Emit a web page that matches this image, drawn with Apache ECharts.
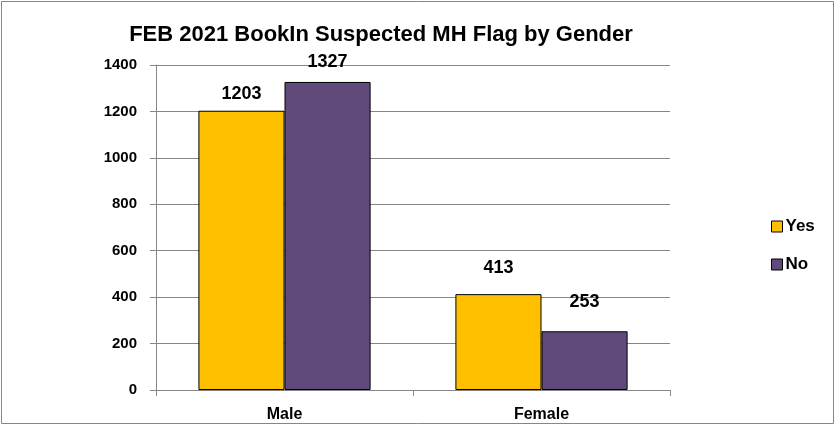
<!DOCTYPE html>
<html>
<head>
<meta charset="utf-8">
<script src="https://cdn.jsdelivr.net/npm/echarts@6/dist/echarts.min.js"></script>
<style>html,body{margin:0;padding:0;background:#fff}#c{width:837px;height:426px}</style>
</head>
<body>
<div id="c"></div>
<script>
const titleText = 'FEB 2021 BookIn Suspected MH Flag by Gender';
const categories = ['Male', 'Female'];
const yesValues = [1203, 413];
const noValues = [1327, 253];
const seriesNames = ['Yes', 'No'];
const yTicks = { min: 0, max: 1400, interval: 200 };

const FONT = '"Liberation Sans", Arial, sans-serif';
const yesDist = [8, 17];
const noDist = [11, 20];

const chart = echarts.init(document.getElementById('c'), null, { renderer: 'canvas' });
function mk(vals, dists) {
  return vals.map((v, i) => ({ value: v, label: { distance: dists[i] } }));
}
const labelStyle = { show: true, position: 'top', color: '#000', fontFamily: FONT, fontWeight: 'bold', fontSize: 18 };
chart.setOption({
  animation: false,
  backgroundColor: '#fff',
  title: {
    text: titleText, left: 376, top: 19, textAlign: 'center',
    textStyle: { fontFamily: FONT, fontWeight: 'bold', fontSize: 22, color: '#000' }
  },
  graphic: [{ type: 'rect', shape: { x: 1.5, y: 1.5, width: 832, height: 422 }, style: { fill: 'none', stroke: '#868686', lineWidth: 1 }, silent: true }],
  legend: {
    orient: 'vertical', left: 766, top: 213, itemWidth: 11, itemHeight: 11, itemGap: 21,
    icon: 'rect',
    itemStyle: { borderColor: '#000', borderWidth: 1 },
    textStyle: { fontFamily: FONT, fontWeight: 'bold', fontSize: 17, color: '#000', padding: [0, 0, 0, -2] },
    data: seriesNames
  },
  grid: { left: 156, right: 167, top: 65, bottom: 36, containLabel: false },
  xAxis: {
    type: 'category', data: categories, boundaryGap: true,
    axisLine: { lineStyle: { color: '#868686', width: 1 } },
    axisTick: { show: true, length: 6, alignWithLabel: false, lineStyle: { color: '#868686' } },
    axisLabel: { margin: 17, fontFamily: FONT, fontWeight: 'bold', fontSize: 16, color: '#000' }
  },
  yAxis: {
    type: 'value', min: yTicks.min, max: yTicks.max, interval: yTicks.interval,
    axisLine: { show: true, lineStyle: { color: '#868686', width: 1 } },
    axisTick: { show: true, length: 6, inside: false, lineStyle: { color: '#868686' } },
    axisLabel: { margin: 19, fontFamily: FONT, fontWeight: 'bold', fontSize: 15, color: '#000', formatter: v => String(v) },
    splitLine: { show: true, lineStyle: { color: '#868686', width: 1 } }
  },
  series: [
    { name: seriesNames[0], type: 'bar', data: mk(yesValues, yesDist), barGap: '0%', barCategoryGap: '33%',
      itemStyle: { color: '#FFC000', borderColor: '#000', borderWidth: 1 }, label: labelStyle },
    { name: seriesNames[1], type: 'bar', data: mk(noValues, noDist), barGap: '0%', barCategoryGap: '33%',
      itemStyle: { color: '#604A7B', borderColor: '#000', borderWidth: 1 }, label: labelStyle }
  ]
});
</script>
</body>
</html>
